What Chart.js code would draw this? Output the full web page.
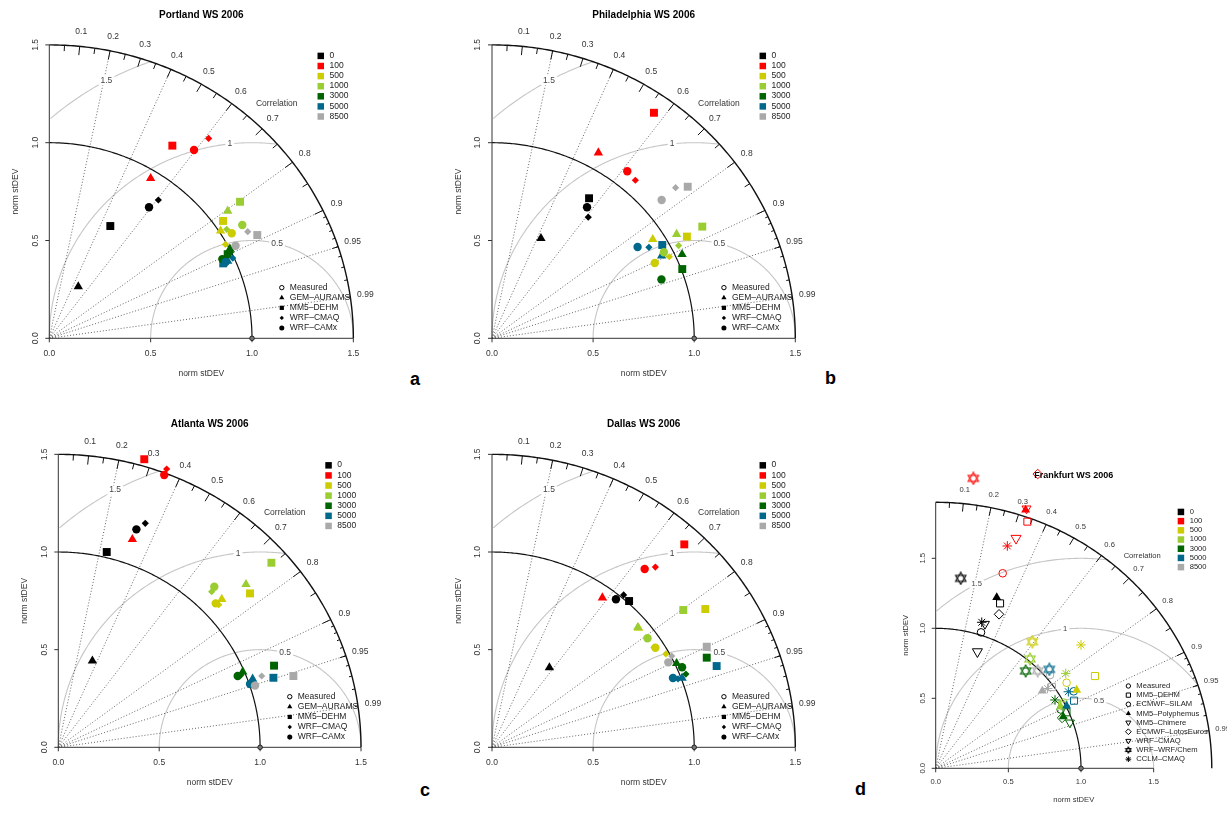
<!DOCTYPE html>
<html>
<head>
<meta charset="utf-8">
<script src="https://cdn.jsdelivr.net/npm/chart.js@4.4.1/dist/chart.umd.min.js"></script>
<style>
  body { margin: 0; background: #fff; width: 1227px; height: 816px; position: relative; overflow: hidden; }
  canvas { position: absolute; }
  .tag { position: absolute; font: bold 18px "Liberation Sans", Arial, sans-serif; color: #000; }
</style>
</head>
<body>
<div class="tag" style="left:410px;top:369px">a</div>
<div class="tag" style="left:825px;top:368px">b</div>
<div class="tag" style="left:420px;top:780px">c</div>
<div class="tag" style="left:855px;top:779px">d</div>
<script>
// heights (m) and their colours
const heights = ['0', '100', '500', '1000', '3000', '5000', '8500'];
const heightColors = ['#000000', '#ff0000', '#cccc00', '#9acd32', '#006400', '#00688b', '#a9a9a9'];

const usModels = ['GEM–AURAMS', 'MM5–DEHM', 'WRF–CMAQ', 'WRF–CAMx'];
const frankModels = ['MM5–DEHM', 'ECMWF–SILAM', 'MM5–Polyphemus', 'MM5–Chimere', 'ECMWF–LotosEuros', 'WRF–CMAQ', 'WRF–WRF/Chem', 'CCLM–CMAQ'];

const corrLabels = ['0.1', '0.2', '0.3', '0.4', '0.5', '0.6', '0.7', '0.8', '0.9', '0.95', '0.99'];
const corrLines = [0.2, 0.4, 0.6, 0.8, 0.9, 0.95, 0.99];
const rmsLevels = [0.5, 1, 1.5];
const rmsLabels = ['0.5', '1', '1.5'];
const axisTicks = [0, 0.5, 1, 1.5];
const axisTickLabels = ['0.0', '0.5', '1.0', '1.5'];

// [x, y] in norm stDEV for heights 0,100,500,1000,3000,5000,8500 (null = not shown)
const portlandGem  = [[0.143, 0.264], [0.500, 0.818], [0.845, 0.549], [0.880, 0.651], [0.891, 0.457], [0.880, 0.395], null];
const portlandDehm = [[0.301, 0.574], [0.607, 0.985], [0.857, 0.600], [0.941, 0.698], [0.880, 0.430], [0.858, 0.383], [1.026, 0.528]];
const portlandCmaq = [[0.538, 0.707], [0.786, 1.022], [0.869, 0.480], [0.875, 0.557], [0.895, 0.440], [0.905, 0.410], [0.979, 0.545]];
const portlandCamx = [[0.492, 0.670], [0.714, 0.963], [0.900, 0.537], [0.952, 0.579], [0.854, 0.405], [0.870, 0.390], [0.919, 0.473]];

const philaGem  = [[0.242, 0.511], [0.526, 0.949], [0.795, 0.506], [0.913, 0.532], [0.940, 0.429], [0.839, 0.422], null];
const philaDehm = [[0.480, 0.716], [0.801, 1.153], [0.964, 0.520], [1.040, 0.571], [0.941, 0.354], [0.842, 0.477], [0.968, 0.775]];
const philaCmaq = [[0.476, 0.619], [0.709, 0.808], [0.877, 0.417], [0.923, 0.474], null, [0.776, 0.465], [0.908, 0.770]];
const philaCamx = [[0.470, 0.670], [0.669, 0.854], [0.805, 0.385], [0.850, 0.440], [0.838, 0.301], [0.720, 0.467], [0.839, 0.707]];

const atlantaGem  = [[0.169, 0.443], [0.367, 1.065], [0.810, 0.758], [0.930, 0.834], [0.914, 0.387], [0.963, 0.350], null];
const atlantaDehm = [[0.240, 1.000], [0.426, 1.475], [0.950, 0.788], [1.056, 0.945], [1.069, 0.418], [1.066, 0.356], [1.165, 0.365]];
const atlantaCmaq = [[0.431, 1.147], [0.537, 1.425], [0.795, 0.730], [0.760, 0.797], [0.905, 0.370], [0.955, 0.335], [1.008, 0.365]];
const atlantaCamx = [[0.387, 1.116], [0.525, 1.394], [0.780, 0.737], [0.773, 0.822], [0.889, 0.365], [0.950, 0.324], [0.975, 0.316]];

const dallasGem  = [[0.284, 0.408], [0.546, 0.766], [0.725, 0.610], [0.721, 0.614], [0.913, 0.430], [0.940, 0.355], null];
const dallasDehm = [[0.678, 0.749], [0.951, 1.039], [1.055, 0.708], [0.946, 0.703], [1.062, 0.459], [1.111, 0.416], [1.062, 0.515]];
const dallasCmaq = [[0.651, 0.780], [0.808, 0.923], [0.860, 0.478], [0.801, 0.512], [0.959, 0.375], [0.920, 0.350], [0.889, 0.467]];
const dallasCamx = [[0.613, 0.758], [0.755, 0.913], [0.808, 0.510], [0.769, 0.558], [0.940, 0.410], [0.895, 0.355], [0.872, 0.435]];

const frankDehm    = [[0.443, 1.178], [0.631, 1.762], [1.096, 0.659], [0.870, 0.450], [0.900, 0.400], [0.952, 0.483], [0.800, 0.580]];
const frankSilam   = [[0.312, 0.971], [0.461, 1.393], [0.901, 0.611], [0.880, 0.470], [0.860, 0.420], [0.950, 0.550], [0.787, 0.666]];
const frankPoly    = [[0.420, 1.221], [0.619, 1.845], [0.970, 0.559], [0.860, 0.440], [0.878, 0.369], [0.901, 0.445], [0.734, 0.552]];
const frankChimere = [[0.339, 1.031], [0.625, 1.855], null, null, [0.924, 0.326], null, null];
const frankLotos   = [[0.436, 1.100], [0.702, 2.102], null, null, [0.870, 0.360], null, null];
const frankWrfCmaq = [[0.287, 0.833], [0.553, 1.643], null, null, null, null, null];
const frankWrfChem = [[0.172, 1.357], [0.259, 2.071], [0.665, 0.904], [0.649, 0.781], [0.619, 0.695], [0.782, 0.707], [0.702, 0.697]];
const frankCclm    = [[0.317, 1.043], [0.493, 1.588], [1.000, 0.881], [0.895, 0.678], [0.821, 0.488], [0.913, 0.547], [0.770, 0.570]];

const FONT = '"Liberation Sans", Arial, sans-serif';

function davidStar(color, s) {
    const c = document.createElement('canvas');
    c.width = c.height = s;
    const g = c.getContext('2d');
    g.strokeStyle = color;
    g.lineWidth = 1.1;
    const m = s / 2, r = s / 2 - 1;
    [0, Math.PI].forEach(rot => {
        g.beginPath();
        for (let i = 0; i < 3; i++) {
            const a = rot + i * 2 * Math.PI / 3;
            const px = m + r * Math.sin(a), py = m - r * Math.cos(a);
            i ? g.lineTo(px, py) : g.moveTo(px, py);
        }
        g.closePath();
        g.stroke();
    });
    return c;
}

// marker styles, one per model
const usStyles = [
    { style: 'triangle', r: 5.4 },
    { style: 'rect', r: 5.6 },
    { style: 'rectRot', r: 3.6 },
    { style: 'circle', r: 4.2 }
];
const frankStyles = [
    { style: 'rect', r: 5, open: true },
    { style: 'circle', r: 3.8, open: true },
    { style: 'triangle', r: 5.2 },
    { style: 'triangle', r: 5.2, rot: 180, open: true },
    { style: 'rectRot', r: 4.8, open: true },
    { style: 'triangle', r: 5.8, rot: 180, open: true },
    { david: true, size: 14, open: true },
    { style: 'star', r: 4.8, open: true }
];

function markerSet(points, st) {
    const data = [], cols = [];
    points.forEach((p, k) => {
        if (p) { data.push({ x: p[0], y: p[1] }); cols.push(heightColors[k]); }
    });
    return {
        data,
        pointStyle: st.david ? cols.map(c => davidStar(c, st.size)) : st.style,
        pointRadius: st.r || 5,
        pointRotation: st.rot || 0,
        pointBackgroundColor: st.open ? 'rgba(0,0,0,0)' : cols,
        pointBorderColor: cols,
        pointBorderWidth: st.open ? 1 : 0,
        showLine: false,
        clip: false
    };
}

const taylorFrame = {
    id: 'taylorFrame',
    beforeDatasetsDraw(chart, args, o) {
        const ctx = chart.ctx, xs = chart.scales.x, ys = chart.scales.y;
        const P = (a, b) => [xs.getPixelForValue(a), ys.getPixelForValue(b)];
        const R = o.R, fs = o.fs;
        const seg = (a, b) => { ctx.beginPath(); ctx.moveTo(a[0], a[1]); ctx.lineTo(b[0], b[1]); ctx.stroke(); };
        ctx.save();

        // centred RMS difference arcs around the reference
        ctx.strokeStyle = '#c6c6c6';
        ctx.lineWidth = 1.1;
        rmsLevels.forEach(g => {
            ctx.beginPath();
            let on = false;
            for (let i = 0; i <= 360; i++) {
                const t = Math.PI * i / 360, u = 1 + g * Math.cos(t), v = g * Math.sin(t);
                if (u < 0 || u * u + v * v > R * R) { on = false; continue; }
                const [a, b] = P(u, v);
                on ? ctx.lineTo(a, b) : ctx.moveTo(a, b);
                on = true;
            }
            ctx.stroke();
        });

        // correlation rays
        ctx.setLineDash([1, 2]);
        ctx.strokeStyle = '#555';
        ctx.lineWidth = 0.9;
        corrLines.forEach(c => seg(P(0, 0), P(R * c, R * Math.sqrt(1 - c * c))));
        ctx.setLineDash([]);

        ctx.font = `${fs}px ${FONT}`;
        ctx.textAlign = 'center';
        ctx.textBaseline = 'middle';
        rmsLevels.forEach((g, i) => {
            const t = [1.32, 1.68, 2.07][i];
            const [a, b] = P(1 + g * Math.cos(t), g * Math.sin(t));
            const w = ctx.measureText(rmsLabels[i]).width + 4;
            ctx.fillStyle = '#fff';
            ctx.fillRect(a - w / 2, b - fs * 0.55, w, fs * 1.1);
            ctx.fillStyle = '#444';
            ctx.fillText(rmsLabels[i], a, b);
        });

        // outer arc and reference-sd arc
        const arc = r => {
            ctx.beginPath();
            for (let i = 0; i <= 180; i++) {
                const t = Math.PI / 2 * i / 180;
                const [a, b] = P(r * Math.cos(t), r * Math.sin(t));
                i ? ctx.lineTo(a, b) : ctx.moveTo(a, b);
            }
            ctx.stroke();
        };
        ctx.strokeStyle = '#111';
        ctx.lineWidth = 1.4;
        arc(R);
        ctx.lineWidth = 1.2;
        arc(1);

        // correlation ticks
        ctx.lineWidth = 1;
        const tick = (c, f) => {
            const s = Math.sqrt(1 - c * c);
            seg(P(R * c, R * s), P(f * R * c, f * R * s));
        };
        for (let k = 1; k <= 9; k++) tick(k / 10, 0.97);
        for (let k = 0; k < 10; k++) tick(0.05 + k / 10, 0.98);
        for (let k = 1; k <= 9; k++) tick(0.9 + k / 100, 0.99);

        ctx.fillStyle = '#333';
        corrLabels.forEach(l => {
            const c = parseFloat(l), s = Math.sqrt(1 - c * c);
            const [a, b] = P(1.05 * R * c, 1.05 * R * s);
            ctx.fillText(l, a, b);
        });
        const [cx, cy] = P(0.748 * R, 0.8 * R);
        ctx.fillText('Correlation', cx, cy);

        // axes
        ctx.strokeStyle = '#333';
        ctx.lineWidth = 1;
        seg(P(0, 0), P(1.5, 0));
        seg(P(0, 0), P(0, R));
        const [ox, oy] = P(0, 0);
        axisTicks.forEach((v, i) => {
            const [a] = P(v, 0);
            seg([a, oy], [a, oy + 4]);
            ctx.fillText(axisTickLabels[i], a, oy + o.tickGap);
            const [, b] = P(0, v);
            seg([ox, b], [ox - 4, b]);
            ctx.save();
            ctx.translate(ox - o.tickGap + 1, b);
            ctx.rotate(-Math.PI / 2);
            ctx.fillText(axisTickLabels[i], 0, 0);
            ctx.restore();
        });
        ctx.fillText('norm stDEV', P(R / 2, 0)[0], oy + o.titleGap);
        ctx.save();
        ctx.translate(ox - o.titleGap + 2, P(0, R / 2)[1]);
        ctx.rotate(-Math.PI / 2);
        ctx.fillText('norm stDEV', 0, 0);
        ctx.restore();

        // reference point
        const [rx, ry] = P(1, 0);
        ctx.beginPath();
        ctx.arc(rx, ry, 2.3, 0, Math.PI * 2);
        ctx.fillStyle = '#777';
        ctx.fill();
        ctx.strokeStyle = '#222';
        ctx.stroke();
        ctx.restore();
    },
    afterDraw(chart, args, o) {
        const ctx = chart.ctx, xs = chart.scales.x, ys = chart.scales.y;
        const P = (a, b) => [xs.getPixelForValue(a), ys.getPixelForValue(b)];
        const fs = o.fs;
        ctx.save();
        ctx.textBaseline = 'middle';
        ctx.textAlign = 'center';
        ctx.font = `bold ${o.titleSize}px ${FONT}`;
        ctx.fillStyle = '#000';
        ctx.fillText(o.title, P(o.R / 2, 0)[0], P(0, o.R)[1] - o.titleUp);

        // height legend
        ctx.font = `${fs}px ${FONT}`;
        ctx.textAlign = 'left';
        const [lx, ly] = P(o.legX, o.legY);
        heights.forEach((h, i) => {
            const yy = ly + i * o.legStep;
            ctx.fillStyle = heightColors[i];
            ctx.fillRect(lx - 3, yy - 3, 6.5, 6.5);
            ctx.fillStyle = '#222';
            ctx.fillText(h, lx + 9, yy);
        });

        // model legend
        const [mx, my] = P(o.modX, o.modY);
        const names = ['Measured'].concat(o.models);
        const styles = [{ style: 'circle', r: 2.2, open: true }].concat(o.styles);
        names.forEach((n, i) => {
            const yy = my + i * o.modStep;
            const st = styles[i];
            ctx.fillStyle = st.open ? 'rgba(0,0,0,0)' : '#000';
            ctx.strokeStyle = '#000';
            ctx.lineWidth = 1;
            const small = st.david ? davidStar('#000', 8) : st.style;
            Chart.helpers.drawPoint(ctx, {
                pointStyle: small,
                radius: i === 0 ? 2.2 : Math.min(st.r || 3, 5) * 0.6,
                rotation: st.rot || 0,
                borderWidth: st.open ? 1 : 0
            }, mx, yy);
            ctx.fillStyle = '#222';
            ctx.fillText(n, mx + 8, yy);
        });
        ctx.restore();
    }
};

const panels = [
    { rect: [0, 0, 420, 400], ox: 49.3, oy: 338.3, ux: 202.7, uy: 195.6, R: 1.5, top: 1.5, title: 'Portland WS 2006',
      sets: [portlandGem, portlandDehm, portlandCmaq, portlandCamx] },
    { rect: [420, 0, 400, 400], ox: 492, oy: 338.3, ux: 202.2, uy: 195.6, R: 1.5, top: 1.5, title: 'Philadelphia WS 2006',
      sets: [philaGem, philaDehm, philaCmaq, philaCamx] },
    { rect: [0, 400, 420, 416], ox: 58.3, oy: 747.3, ux: 201.8, uy: 195.3, R: 1.5, top: 1.5, title: 'Atlanta WS 2006',
      sets: [atlantaGem, atlantaDehm, atlantaCmaq, atlantaCamx] },
    { rect: [430, 400, 420, 416], ox: 492, oy: 747.3, ux: 202.2, uy: 195.3, R: 1.5, top: 1.5, title: 'Dallas WS 2006',
      sets: [dallasGem, dallasDehm, dallasCmaq, dallasCamx] },
    { rect: [862, 440, 365, 376], ox: 935.7, oy: 768.3, ux: 145.3, uy: 140, R: 1.9, top: 2.25, title: 'Frankfurt WS 2006',
      sets: [frankDehm, frankSilam, frankPoly, frankChimere, frankLotos, frankWrfCmaq, frankWrfChem, frankCclm], frank: true }
];

panels.forEach(p => {
    const [L, T, W, H] = p.rect;
    const cv = document.createElement('canvas');
    cv.width = W;
    cv.height = H;
    cv.style.left = L + 'px';
    cv.style.top = T + 'px';
    document.body.appendChild(cv);

    const styles = p.frank ? frankStyles : usStyles;
    const datasets = p.sets.map((s, i) => markerSet(s, styles[i])).reverse();
    const opts = p.frank
        ? { R: p.R, fs: 7.6, titleSize: 9, titleUp: 27, tickGap: 13.5, titleGap: 32, title: p.title,
            legX: 1.686, legY: 1.833, legStep: 9.2, modX: 1.326, modY: 0.588, modStep: 9.15,
            models: frankModels, styles: frankStyles }
        : { R: p.R, fs: 8.5, titleSize: 10, titleUp: 30, tickGap: 15, titleGap: 35.5, title: p.title,
            legX: 1.338, legY: 1.445, legStep: 10.1, modX: 1.147, modY: 0.259, modStep: 10.1,
            models: usModels, styles: usStyles };

    new Chart(cv.getContext('2d'), {
        type: 'scatter',
        data: { datasets },
        options: {
            responsive: false,
            animation: false,
            events: [],
            layout: {
                padding: {
                    left: p.ox - L,
                    right: L + W - (p.ox + p.R * p.ux),
                    top: (p.oy - p.top * p.uy) - T,
                    bottom: T + H - p.oy
                }
            },
            scales: {
                x: { type: 'linear', min: 0, max: p.R, display: false },
                y: { type: 'linear', min: 0, max: p.top, display: false }
            },
            plugins: {
                legend: { display: false },
                tooltip: { enabled: false },
                taylorFrame: opts
            }
        },
        plugins: [taylorFrame]
    });
});
</script>
</body>
</html>
